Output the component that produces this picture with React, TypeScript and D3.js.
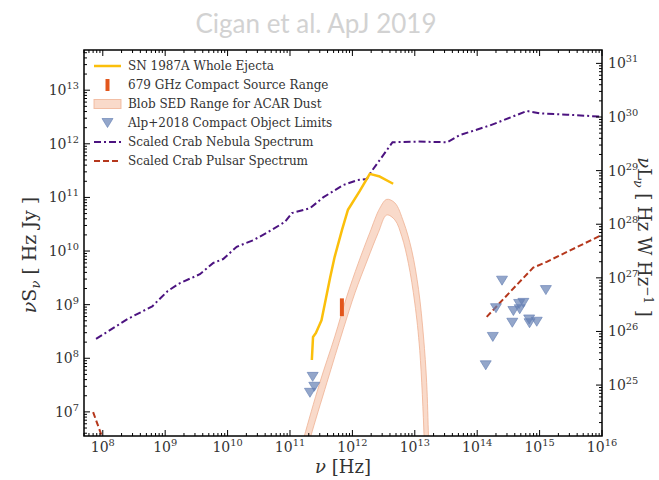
import React from "react";
import * as d3 from "d3";

const W = 659;
const H = 480;
const PLOT = { left: 84, right: 602, top: 50, bottom: 436 };

// Frequency axis [Hz] and flux axis [Hz Jy]
const NU_DOMAIN = [5e7, 1e16];
const NUS_DOMAIN = [3.55e6, 5.62e13];
// νL_ν / νS_ν for the LMC distance (4πd² · 1e-26)
const LUM_FACTOR = 3.162e17;

// Scaled Crab Nebula spectrum
const crabNebulaNu = [7.8e7, 2.5e8, 6.2e8, 1.1e9, 1.7e9, 3.6e9, 5.9e9, 8.5e9, 1.4e10, 2.6e10, 4.3e10, 8.3e10, 1.07e11, 2.1e11, 3.4e11, 7.1e11, 1.2e12, 1.7e12, 2.0e12, 2.75e12, 4.4e12, 1.1e13, 3.3e13, 5.2e13, 1.6e14, 6.3e14, 1.0e15, 2.75e15, 1e16];
const crabNebulaS = [2.3e8, 5.4e8, 9.3e8, 1.8e9, 2.5e9, 3.7e9, 6.0e9, 7.1e9, 1.2e10, 1.6e10, 2.2e10, 3.5e10, 5.1e10, 6.3e10, 1.0e11, 1.7e11, 2.1e11, 2.2e11, 3.0e11, 5.0e11, 1.07e12, 1.1e12, 1.07e12, 1.45e12, 2.2e12, 4.1e12, 3.7e12, 3.5e12, 3.2e12];

// Scaled Crab pulsar spectrum (radio part and optical/UV part)
const crabPulsarRadioNu = [7.0e7, 1.09e8];
const crabPulsarRadioS = [9.9e6, 2.4e6];
const crabPulsarOptNu = [1.42e14, 3.27e14, 7.9e14, 1.3e15, 1e16];
const crabPulsarOptS = [5.9e8, 1.67e9, 4.9e9, 6.3e9, 2.0e10];

// SN 1987A whole ejecta SED
const ejectaNu = [2.24e11, 2.34e11, 2.6e11, 3.2e11, 4.4e11, 5.2e11, 6.8e11, 8.5e11, 1.3e12, 1.9e12, 2.75e12, 4.5e12];
const ejectaS = [9.3e7, 2.5e8, 2.95e8, 5.1e8, 3.2e9, 7.8e9, 2.45e10, 5.9e10, 1.3e11, 2.75e11, 2.45e11, 1.8e11];

// Blob SED range: upper and lower envelope
const blobUpperNu = [1.45e11, 1.68e11, 3.0e11, 5.2e11, 8.1e11, 1.24e12, 1.9e12, 2.75e12, 3.55e12, 4.8e12, 6.6e12, 8.9e12, 1.15e13, 1.38e13, 1.55e13, 1.66e13, 1.74e13];
const blobUpperS = [1.8e6, 3.4e6, 3.5e7, 2.5e8, 1.4e9, 5.9e9, 2.2e10, 6.3e10, 9.2e10, 7.9e10, 3.5e10, 1.05e10, 1.9e9, 2.5e8, 3.5e7, 3.4e6, 8.1e5];
const blobLowerNu = [1.86e11, 2.14e11, 3.9e11, 7.1e11, 1.1e12, 1.74e12, 2.6e12, 3.55e12, 4.8e12, 6.2e12, 7.9e12, 1.0e13, 1.2e13, 1.41e13, 1.45e13];
const blobLowerS = [1.8e6, 3.4e6, 3.5e7, 3.4e8, 1.66e9, 6.8e9, 2.2e10, 4.7e10, 3.8e10, 1.86e10, 5.9e9, 1.07e9, 1.4e8, 3.4e6, 8.1e5];

// 679 GHz compact source range
const compactNu = 679e9;
const compactRange = [6.1e8, 1.31e9];

// Alp+2018 compact object upper limits
const alpNu = [2.31e11, 2.45e11, 2.09e11, 2.5e14, 1.26e15, 2.0e14, 5.5e14, 4.7e14, 3.8e14, 4.8e14, 3.65e14, 6.8e14, 6.9e14, 9.0e14, 1.78e14, 1.37e14];
const alpS = [4.5e7, 2.94e7, 2.27e7, 2.8e9, 1.87e9, 8.6e8, 1.08e9, 1.03e9, 7.6e8, 8.2e8, 4.6e8, 5.3e8, 4.5e8, 4.8e8, 2.5e8, 7.4e7];

const legendLabels = [
  "SN 1987A Whole Ejecta",
  "679 GHz Compact Source Range",
  "Blob SED Range for ACAR Dust",
  "Alp+2018 Compact Object Limits",
  "Scaled Crab Nebula Spectrum",
  "Scaled Crab Pulsar Spectrum",
];

const C = {
  ejecta: "#fbbf0b",
  compact: "#e2561c",
  blob: "#f6c6ae",
  blobEdge: "#efb194",
  alp: "#6580b4",
  nebula: "#4c1380",
  pulsar: "#b5371c",
  text: "#333333",
};

const SERIF = "'DejaVu Serif', serif";

function zip(a: number[], b: number[]): [number, number][] {
  return a.map((v, i) => [v, b[i]]);
}

function logTicks(lo: number, hi: number) {
  const major: number[] = [];
  const minor: number[] = [];
  const e0 = Math.floor(Math.log10(lo));
  const e1 = Math.ceil(Math.log10(hi));
  for (let e = e0; e <= e1; e++) {
    for (let m = 1; m <= 9; m++) {
      const v = m * Math.pow(10, e);
      if (v < lo * 0.9999 || v > hi * 1.0001) continue;
      (m === 1 ? major : minor).push(v);
    }
  }
  return { major, minor };
}

function Pow({ x, y, exp, anchor, size = 14 }: { x: number; y: number; exp: number; anchor: string; size?: number }) {
  return (
    <text x={x} y={y} textAnchor={anchor as any} fontFamily={SERIF} fontSize={size} fill={C.text}>
      10
      <tspan dy={-6} fontSize={size * 0.7}>{exp}</tspan>
    </text>
  );
}

export default function App() {
  const x = d3.scaleLog().domain(NU_DOMAIN).range([PLOT.left, PLOT.right]);
  const y = d3.scaleLog().domain(NUS_DOMAIN).range([PLOT.bottom, PLOT.top]);
  const yR = d3
    .scaleLog()
    .domain([NUS_DOMAIN[0] * LUM_FACTOR, NUS_DOMAIN[1] * LUM_FACTOR])
    .range([PLOT.bottom, PLOT.top]);

  const line = d3
    .line<[number, number]>()
    .x((d) => x(d[0]))
    .y((d) => y(d[1]));
  const smooth = d3
    .line<[number, number]>()
    .x((d) => x(d[0]))
    .y((d) => y(d[1]))
    .curve(d3.curveCatmullRom.alpha(0.5));

  const upperPath = smooth(zip(blobUpperNu, blobUpperS)) as string;
  const lowerPath = smooth(zip(blobLowerNu, blobLowerS).reverse()) as string;
  const blobPath = upperPath + "L" + lowerPath.slice(1) + "Z";

  const xt = logTicks(NU_DOMAIN[0], NU_DOMAIN[1]);
  const yt = logTicks(NUS_DOMAIN[0], NUS_DOMAIN[1]);
  const yrt = logTicks(NUS_DOMAIN[0] * LUM_FACTOR, NUS_DOMAIN[1] * LUM_FACTOR);

  const MAJ = 6;
  const MIN = 3;
  const tri = "M-5.5,-4.5L5.5,-4.5L0,4.5Z";

  const legendY = [66, 85, 104, 123, 142, 161];
  const hx0 = 94;
  const hx1 = 121;
  const hxm = (hx0 + hx1) / 2;

  return (
    <svg width={W} height={H} style={{ position: "absolute", left: 0, top: 0, background: "#fff" }}>
      <defs>
        <clipPath id="plotClip">
          <rect x={PLOT.left} y={PLOT.top} width={PLOT.right - PLOT.left} height={PLOT.bottom - PLOT.top} />
        </clipPath>
      </defs>

      <text x={316} y={33} textAnchor="middle" fontFamily="Lato, 'Open Sans', sans-serif" fontSize={26} fill="#d2d2d2">
        Cigan et al. ApJ 2019
      </text>

      <g clipPath="url(#plotClip)">
        <path d={blobPath} fill={C.blob} fillOpacity={0.65} stroke={C.blobEdge} strokeWidth={1} strokeOpacity={0.8} />
        <path
          d={line(zip(crabNebulaNu, crabNebulaS)) as string}
          fill="none"
          stroke={C.nebula}
          strokeWidth={2}
          strokeDasharray="7,3,2,3"
        />
        <path d={line(zip(crabPulsarRadioNu, crabPulsarRadioS)) as string} fill="none" stroke={C.pulsar} strokeWidth={2} strokeDasharray="6,3" />
        <path d={line(zip(crabPulsarOptNu, crabPulsarOptS)) as string} fill="none" stroke={C.pulsar} strokeWidth={2} strokeDasharray="6,3" />
        <path d={line(zip(ejectaNu, ejectaS)) as string} fill="none" stroke={C.ejecta} strokeWidth={2.5} strokeLinejoin="round" />
        <line x1={x(compactNu)} x2={x(compactNu)} y1={y(compactRange[0])} y2={y(compactRange[1])} stroke={C.compact} strokeWidth={4} />
        {alpNu.map((nu, i) => (
          <path
            key={i}
            d={tri}
            transform={`translate(${x(nu)},${y(alpS[i])})`}
            fill={C.alp}
            fillOpacity={0.7}
            stroke={C.alp}
            strokeOpacity={0.8}
            strokeWidth={0.8}
          />
        ))}
      </g>

      {/* ticks on all four sides, pointing inward */}
      <g stroke="#000" strokeWidth={1}>
        {xt.major.map((v) => (
          <g key={"xM" + v}>
            <line x1={x(v)} x2={x(v)} y1={PLOT.bottom} y2={PLOT.bottom - MAJ} />
            <line x1={x(v)} x2={x(v)} y1={PLOT.top} y2={PLOT.top + MAJ} />
          </g>
        ))}
        {xt.minor.map((v) => (
          <g key={"xm" + v}>
            <line x1={x(v)} x2={x(v)} y1={PLOT.bottom} y2={PLOT.bottom - MIN} />
            <line x1={x(v)} x2={x(v)} y1={PLOT.top} y2={PLOT.top + MIN} />
          </g>
        ))}
        {yt.major.map((v) => (
          <line key={"yM" + v} x1={PLOT.left} x2={PLOT.left + MAJ} y1={y(v)} y2={y(v)} />
        ))}
        {yt.minor.map((v) => (
          <line key={"ym" + v} x1={PLOT.left} x2={PLOT.left + MIN} y1={y(v)} y2={y(v)} />
        ))}
        {yrt.major.map((v) => (
          <line key={"rM" + v} x1={PLOT.right} x2={PLOT.right - MAJ} y1={yR(v)} y2={yR(v)} />
        ))}
        {yrt.minor.map((v) => (
          <line key={"rm" + v} x1={PLOT.right} x2={PLOT.right - MIN} y1={yR(v)} y2={yR(v)} />
        ))}
      </g>

      <rect
        x={PLOT.left}
        y={PLOT.top}
        width={PLOT.right - PLOT.left}
        height={PLOT.bottom - PLOT.top}
        fill="none"
        stroke="#000"
        strokeWidth={1.5}
      />

      {xt.major.map((v) => (
        <Pow key={"xl" + v} x={x(v)} y={452} exp={Math.round(Math.log10(v))} anchor="middle" />
      ))}
      {yt.major.map((v) => (
        <Pow key={"yl" + v} x={79} y={y(v) + 5} exp={Math.round(Math.log10(v))} anchor="end" />
      ))}
      {yrt.major.map((v) => (
        <Pow key={"rl" + v} x={608} y={yR(v) + 5} exp={Math.round(Math.log10(v))} anchor="start" />
      ))}

      <text x={343} y={473} textAnchor="middle" fontFamily={SERIF} fontSize={18} fill={C.text}>
        <tspan fontStyle="italic">ν</tspan> [Hz]
      </text>
      <text
        transform={`translate(36,255) rotate(-90)`}
        textAnchor="middle"
        fontFamily={SERIF}
        fontSize={19}
        fill={C.text}
      >
        <tspan fontStyle="italic">ν</tspan>S
        <tspan fontStyle="italic" fontSize={13} dy={4}>ν</tspan>
        <tspan dy={-4}> [ Hz Jy ]</tspan>
      </text>
      <text
        transform={`translate(638,237) rotate(90)`}
        textAnchor="middle"
        fontFamily={SERIF}
        fontSize={18}
        fill={C.text}
      >
        <tspan fontStyle="italic">ν</tspan>L
        <tspan fontStyle="italic" fontSize={12} dy={4}>ν</tspan>
        <tspan dy={-4}> [ Hz W Hz</tspan>
        <tspan fontSize={12} dy={-6}>−1</tspan>
        <tspan dy={6}> ]</tspan>
      </text>

      {/* legend */}
      <g fontFamily={SERIF} fontSize={12} fill={C.text}>
        <line x1={hx0} x2={hx1} y1={legendY[0]} y2={legendY[0]} stroke={C.ejecta} strokeWidth={2.5} />
        <line x1={hxm} x2={hxm} y1={legendY[1] - 6} y2={legendY[1] + 6} stroke={C.compact} strokeWidth={4} />
        <rect x={hx0} y={legendY[2] - 4.5} width={hx1 - hx0} height={9} fill={C.blob} fillOpacity={0.65} stroke={C.blobEdge} strokeWidth={1} strokeOpacity={0.8} />
        <path d={tri} transform={`translate(${hxm},${legendY[3]})`} fill={C.alp} fillOpacity={0.7} stroke={C.alp} strokeOpacity={0.8} strokeWidth={0.8} />
        <line x1={hx0} x2={hx1} y1={legendY[4]} y2={legendY[4]} stroke={C.nebula} strokeWidth={2} strokeDasharray="7,3,2,3" />
        <line x1={hx0} x2={hx1} y1={legendY[5]} y2={legendY[5]} stroke={C.pulsar} strokeWidth={2} strokeDasharray="6,3" />
        {legendLabels.map((t, i) => (
          <text key={t} x={128} y={legendY[i] + 4}>
            {t}
          </text>
        ))}
      </g>
    </svg>
  );
}
